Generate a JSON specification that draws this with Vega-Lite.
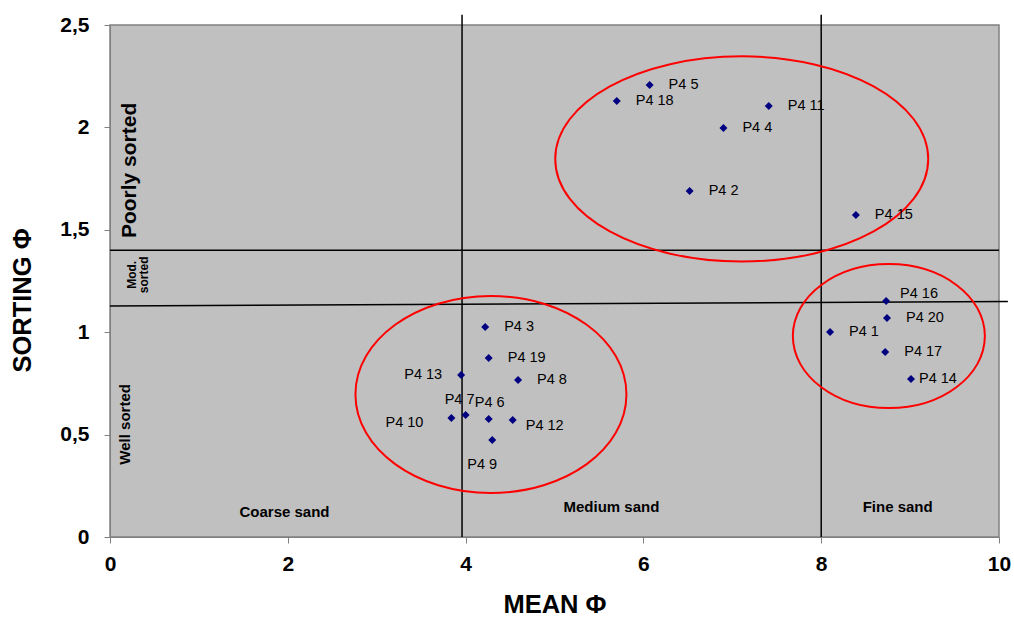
{
  "$schema": "https://vega.github.io/schema/vega-lite/v6.json",
  "width": 889,
  "height": 512,
  "autosize": {"type": "none"},
  "padding": {"left": 110, "top": 25, "right": 15, "bottom": 80},
  "background": "white",
  "config": {
    "view": {"fill": "#C0C0C0", "stroke": "#808080", "strokeWidth": 1.5},
    "font": "Liberation Sans"
  },
  "datasets": {
    "samples": [
      {"name": "P4 1", "mean": 8.10, "sorting": 1.001},
      {"name": "P4 2", "mean": 6.52, "sorting": 1.689},
      {"name": "P4 3", "mean": 4.22, "sorting": 1.025},
      {"name": "P4 4", "mean": 6.90, "sorting": 1.997},
      {"name": "P4 5", "mean": 6.07, "sorting": 2.207},
      {"name": "P4 6", "mean": 4.26, "sorting": 0.576},
      {"name": "P4 7", "mean": 4.00, "sorting": 0.596},
      {"name": "P4 8", "mean": 4.59, "sorting": 0.767},
      {"name": "P4 9", "mean": 4.30, "sorting": 0.474},
      {"name": "P4 10", "mean": 3.84, "sorting": 0.581},
      {"name": "P4 11", "mean": 7.41, "sorting": 2.104},
      {"name": "P4 12", "mean": 4.53, "sorting": 0.571},
      {"name": "P4 13", "mean": 3.95, "sorting": 0.791},
      {"name": "P4 14", "mean": 9.01, "sorting": 0.771},
      {"name": "P4 15", "mean": 8.39, "sorting": 1.572},
      {"name": "P4 16", "mean": 8.73, "sorting": 1.152},
      {"name": "P4 17", "mean": 8.72, "sorting": 0.903},
      {"name": "P4 18", "mean": 5.70, "sorting": 2.129},
      {"name": "P4 19", "mean": 4.26, "sorting": 0.874},
      {"name": "P4 20", "mean": 8.74, "sorting": 1.069}
    ],
    "lines": [
      {"x": 3.96, "y": 0, "x2": 3.96, "y2": 2.55},
      {"x": 8.0, "y": 0, "x2": 8.0, "y2": 2.55},
      {"x": 0, "y": 1.40, "x2": 10.0, "y2": 1.40},
      {"x": 0, "y": 1.128, "x2": 10.1, "y2": 1.15}
    ],
    "ellipses": [
      {"group": "poor", "cx": 7.106, "cy": 1.846},
      {"group": "medium", "cx": 4.285, "cy": 0.696},
      {"group": "fine", "cx": 8.761, "cy": 0.981}
    ],
    "sortzones": [
      {"zone": "Poorly sorted", "kind": "poor", "x": 0.22, "y": 1.79},
      {"zone": "Mod.\nsorted", "kind": "mod", "x": 0.245, "y": 1.28},
      {"zone": "Well sorted", "kind": "well", "x": 0.17, "y": 0.55}
    ],
    "sandzones": [
      {"zone": "Coarse sand", "x": 1.963, "y": 0.122},
      {"zone": "Medium sand", "x": 5.64, "y": 0.146},
      {"zone": "Fine sand", "x": 8.86, "y": 0.146}
    ]
  },
  "encoding": {
    "x": {
      "field": "mean", "type": "quantitative",
      "scale": {"domain": [0, 10], "nice": false},
      "axis": {
        "title": "MEAN Φ", "values": [0, 2, 4, 6, 8, 10],
        "grid": false, "domainColor": "#808080", "tickColor": "#808080",
        "tickSize": 6, "labelPadding": 10, "labelFlush": false,
        "labelFont": "Liberation Sans", "labelFontSize": 21, "labelFontWeight": "bold", "labelColor": "black",
        "titleFont": "Liberation Sans", "titleFontSize": 25.5, "titleFontWeight": "bold", "titleColor": "black",
        "titleBaseline": "middle", "titleY": 67
      }
    },
    "y": {
      "field": "sorting", "type": "quantitative",
      "scale": {"domain": [0, 2.5], "nice": false},
      "axis": {
        "title": "SORTING Φ", "values": [0, 0.5, 1, 1.5, 2, 2.5],
        "labelExpr": "replace(format(datum.value, '~g'), '.', ',')",
        "grid": false, "domainColor": "#808080", "tickColor": "#808080",
        "tickSize": 6, "labelPadding": 15, "labelFlush": false,
        "labelFont": "Liberation Sans", "labelFontSize": 21, "labelFontWeight": "bold", "labelColor": "black",
        "titleFont": "Liberation Sans", "titleFontSize": 25.5, "titleFontWeight": "bold", "titleColor": "black",
        "titleX": -88, "titleY": 275, "titleBaseline": "middle", "titleAlign": "center"
      }
    }
  },
  "layer": [
    {
      "data": {"name": "lines"},
      "mark": {"type": "rule", "color": "black", "strokeWidth": 1.5},
      "encoding": {
        "x": {"field": "x", "type": "quantitative"},
        "y": {"field": "y", "type": "quantitative"},
        "x2": {"field": "x2"},
        "y2": {"field": "y2"}
      }
    },
    {
      "data": {"name": "ellipses"},
      "transform": [{"filter": "datum.group === 'poor'"}],
      "mark": {"type": "point", "filled": false, "stroke": "red", "strokeWidth": 2, "opacity": 1, "size": 139129,
        "shape": "M -1 0 A 1 0.55 0 1 1 1 0 A 1 0.55 0 1 1 -1 0 Z"},
      "encoding": {
        "x": {"field": "cx", "type": "quantitative"},
        "y": {"field": "cy", "type": "quantitative"}
      }
    },
    {
      "data": {"name": "ellipses"},
      "transform": [{"filter": "datum.group === 'medium'"}],
      "mark": {"type": "point", "filled": false, "stroke": "red", "strokeWidth": 2, "opacity": 1, "size": 73441,
        "shape": "M -1 0 A 1 0.727 0 1 1 1 0 A 1 0.727 0 1 1 -1 0 Z"},
      "encoding": {
        "x": {"field": "cx", "type": "quantitative"},
        "y": {"field": "cy", "type": "quantitative"}
      }
    },
    {
      "data": {"name": "ellipses"},
      "transform": [{"filter": "datum.group === 'fine'"}],
      "mark": {"type": "point", "filled": false, "stroke": "red", "strokeWidth": 2, "opacity": 1, "size": 36864,
        "shape": "M -1 0 A 1 0.75 0 1 1 1 0 A 1 0.75 0 1 1 -1 0 Z"},
      "encoding": {
        "x": {"field": "cx", "type": "quantitative"},
        "y": {"field": "cy", "type": "quantitative"}
      }
    },
    {
      "data": {"name": "sortzones"},
      "transform": [{"filter": "datum.kind === 'poor'"}],
      "mark": {"type": "text", "angle": 270, "align": "center", "baseline": "middle", "fontSize": 21, "fontWeight": "bold", "color": "black"},
      "encoding": {
        "x": {"field": "x", "type": "quantitative"},
        "y": {"field": "y", "type": "quantitative"},
        "text": {"field": "zone"}
      }
    },
    {
      "data": {"name": "sortzones"},
      "transform": [{"filter": "datum.kind === 'mod'"}],
      "mark": {"type": "text", "angle": 270, "align": "center", "baseline": "middle", "fontSize": 12, "fontWeight": "bold", "color": "black", "lineBreak": "\n", "lineHeight": 12},
      "encoding": {
        "x": {"field": "x", "type": "quantitative"},
        "y": {"field": "y", "type": "quantitative"},
        "text": {"field": "zone"}
      }
    },
    {
      "data": {"name": "sortzones"},
      "transform": [{"filter": "datum.kind === 'well'"}],
      "mark": {"type": "text", "angle": 270, "align": "center", "baseline": "middle", "fontSize": 15, "fontWeight": "bold", "color": "black"},
      "encoding": {
        "x": {"field": "x", "type": "quantitative"},
        "y": {"field": "y", "type": "quantitative"},
        "text": {"field": "zone"}
      }
    },
    {
      "data": {"name": "sandzones"},
      "mark": {"type": "text", "align": "center", "baseline": "middle", "fontSize": 15, "fontWeight": "bold", "color": "black"},
      "encoding": {
        "x": {"field": "x", "type": "quantitative"},
        "y": {"field": "y", "type": "quantitative"},
        "text": {"field": "zone"}
      }
    },
    {
      "data": {"name": "samples"},
      "mark": {"type": "point", "shape": "diamond", "filled": true, "color": "#000080", "opacity": 1, "size": 64}
    },
    {
      "data": {"name": "samples"},
      "transform": [{"filter": "indexof(['P4 13','P4 10','P4 7','P4 6','P4 9','P4 12','P4 16','P4 14'], datum.name) < 0"}],
      "mark": {"type": "text", "align": "left", "baseline": "middle", "dx": 19, "fontSize": 14.5, "color": "black"},
      "encoding": {"text": {"field": "name"}}
    },
    {
      "data": {"name": "samples"},
      "transform": [{"filter": "datum.name === 'P4 14'"}],
      "mark": {"type": "text", "align": "left", "baseline": "middle", "dx": 8, "fontSize": 14.5, "color": "black"},
      "encoding": {"text": {"field": "name"}}
    },
    {
      "data": {"name": "samples"},
      "transform": [{"filter": "datum.name === 'P4 16'"}],
      "mark": {"type": "text", "align": "left", "baseline": "middle", "dx": 14, "dy": -7, "fontSize": 14.5, "color": "black"},
      "encoding": {"text": {"field": "name"}}
    },
    {
      "data": {"name": "samples"},
      "transform": [{"filter": "datum.name === 'P4 12'"}],
      "mark": {"type": "text", "align": "left", "baseline": "middle", "dx": 13, "dy": 6, "fontSize": 14.5, "color": "black"},
      "encoding": {"text": {"field": "name"}}
    },
    {
      "data": {"name": "samples"},
      "transform": [{"filter": "datum.name === 'P4 13'"}],
      "mark": {"type": "text", "align": "right", "baseline": "middle", "dx": -19, "fontSize": 14.5, "color": "black"},
      "encoding": {"text": {"field": "name"}}
    },
    {
      "data": {"name": "samples"},
      "transform": [{"filter": "datum.name === 'P4 10'"}],
      "mark": {"type": "text", "align": "right", "baseline": "middle", "dx": -28, "dy": 5, "fontSize": 14.5, "color": "black"},
      "encoding": {"text": {"field": "name"}}
    },
    {
      "data": {"name": "samples"},
      "transform": [{"filter": "datum.name === 'P4 7'"}],
      "mark": {"type": "text", "align": "center", "baseline": "middle", "dx": -6, "dy": -15, "fontSize": 14.5, "color": "black"},
      "encoding": {"text": {"field": "name"}}
    },
    {
      "data": {"name": "samples"},
      "transform": [{"filter": "datum.name === 'P4 6'"}],
      "mark": {"type": "text", "align": "center", "baseline": "middle", "dx": 1, "dy": -16, "fontSize": 14.5, "color": "black"},
      "encoding": {"text": {"field": "name"}}
    },
    {
      "data": {"name": "samples"},
      "transform": [{"filter": "datum.name === 'P4 9'"}],
      "mark": {"type": "text", "align": "center", "baseline": "middle", "dx": -10, "dy": 25, "fontSize": 14.5, "color": "black"},
      "encoding": {"text": {"field": "name"}}
    }
  ]
}
